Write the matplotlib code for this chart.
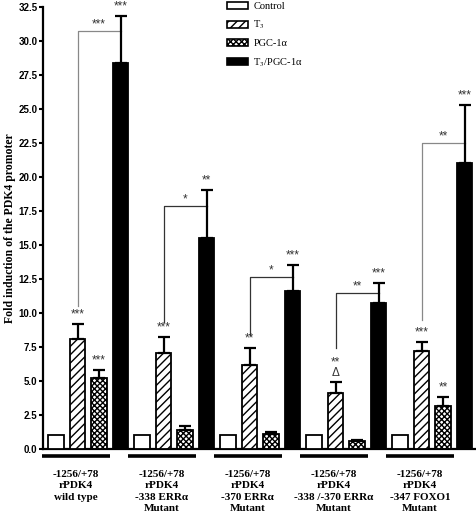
import matplotlib
matplotlib.use("Agg")
import matplotlib.pyplot as plt
from matplotlib.patches import Patch
import numpy as np

# data
groups = ["-1256/+78\nrPDK4\nwild type",
          "-1256/+78\nrPDK4\n-338 ERRα\nMutant",
          "-1256/+78\nrPDK4\n-370 ERRα\nMutant",
          "-1256/+78\nrPDK4\n-338 /-370 ERRα\nMutant",
          "-1256/+78\nrPDK4\n-347 FOXO1\nMutant"]
control = [1.0, 1.0, 1.0, 1.0, 1.0]
t3 = [8.04, 7.04, 6.15, 4.12, 7.18]
t3_err = [1.13, 1.15, 1.23, 0.76, 0.69]
pgc = [5.18, 1.37, 1.10, 0.57, 3.16]
pgc_err = [0.61, 0.30, 0.10, 0.07, 0.66]
both = [28.34, 15.47, 11.60, 10.74, 20.98]
both_err = [3.46, 3.55, 1.90, 1.46, 4.29]

t3_stars = ["***", "***", "**", "**\nΔ", "***"]
pgc_stars = ["***", "", "", "", "**"]
both_stars = ["***", "**", "***", "***", "***"]

# brackets T3 vs T3/PGC-1a
br_top = [30.7, 17.85, 12.65, 11.43, 22.5]
br_bottom = [10.5, 9.3, 8.35, 7.4, 9.45]
br_label = ["***", "*", "*", "**", "**"]
br_color = ["#888888", "#333333", "#333333", "#333333", "#888888"]

labels = ["Control", "T$_3$", "PGC-1α", "T$_3$/PGC-1α"]
yticks = np.arange(0, 32.6, 2.5)

plt.rcParams['mathtext.fontset'] = 'stix'
serif = ['Liberation Serif', 'DejaVu Serif']
sans = ['Liberation Sans Narrow', 'Liberation Sans', 'DejaVu Sans']

fig = plt.figure(figsize=(4.77, 5.18), dpi=100)
ax = fig.add_axes([43 / 477, 1 - 448.7 / 518, 434 / 477, 442 / 518])

w = 0.72
base = np.arange(len(groups)) * 4
ekw = dict(elinewidth=1.6, capthick=1.6, capsize=4, ecolor='black')

ax.bar(base, control, w, color='white', edgecolor='black', linewidth=1.3, zorder=3)
ax.bar(base + 1, t3, w, color='white', edgecolor='black', linewidth=1.3, hatch='////', zorder=3)
ax.errorbar(base + 1, t3, yerr=[np.zeros(5), t3_err], fmt='none', zorder=4, **ekw)
ax.bar(base + 2, pgc, w, color='white', edgecolor='black', linewidth=1.3, hatch='xxxxxx', zorder=3)
ax.errorbar(base + 2, pgc, yerr=[np.zeros(5), pgc_err], fmt='none', zorder=4, **ekw)
ax.bar(base + 3, both, w, color='black', edgecolor='black', linewidth=1.3, zorder=3)
ax.errorbar(base + 3, both, yerr=[np.zeros(5), both_err], fmt='none', zorder=4, **ekw)

star_kw = dict(ha='center', va='bottom', fontsize=8.5, color='#333333', family=sans, linespacing=0.8)
for i in range(len(groups)):
    b = base[i]
    ax.text(b + 1, t3[i] + t3_err[i] + 0.25, t3_stars[i], **star_kw)
    if pgc_stars[i]:
        ax.text(b + 2, pgc[i] + pgc_err[i] + 0.25, pgc_stars[i], **star_kw)
    ax.text(b + 3, both[i] + both_err[i] + 0.25, both_stars[i], **star_kw)
    # bracket
    ax.plot([b + 1, b + 1, b + 3], [br_bottom[i], br_top[i], br_top[i]],
            color=br_color[i], lw=0.9, zorder=2)
    ax.text(b + 2, br_top[i] + 0.05, br_label[i], **star_kw)
    # group underline and label
    ax.plot([b - 0.65, b + 2.5], [-0.55, -0.55], color='black', lw=2.6,
            clip_on=False, solid_capstyle='butt')
    ax.text(b + 0.92, -1.55, groups[i], ha='center', va='top', fontsize=8,
            fontweight='bold', family=serif, linespacing=1.35)

ax.set_xlim(-0.605, 19.58)
ax.set_ylim(0, 32.5)
ax.set_yticks(yticks)
ax.set_yticklabels([f"{v:.1f}" for v in yticks], fontsize=7, fontweight='bold', family=sans)
ax.set_xticks([])
ax.tick_params(axis='y', direction='out', length=3, width=1.5, pad=1)
ax.spines['top'].set_visible(False)
ax.spines['right'].set_visible(False)
ax.spines['left'].set_linewidth(1.6)
ax.spines['bottom'].set_linewidth(1.6)
ax.set_ylabel("Fold induction of the PDK4 promoter", fontsize=8.5, fontweight='bold',
              family=serif, labelpad=2)

handles = [Patch(facecolor='white', edgecolor='black', lw=1.2),
           Patch(facecolor='white', edgecolor='black', lw=1.2, hatch='////'),
           Patch(facecolor='white', edgecolor='black', lw=1.2, hatch='xxxxxx'),
           Patch(facecolor='black', edgecolor='black', lw=1.2)]
fig.legend(handles, labels, loc='upper left', bbox_to_anchor=(218 / 477, 1.014),
           frameon=False, prop={'family': serif, 'size': 7.5}, handlelength=2.0,
           handleheight=0.6, labelspacing=0.75, handletextpad=0.5)

fig.savefig("out.png", dpi=100)
